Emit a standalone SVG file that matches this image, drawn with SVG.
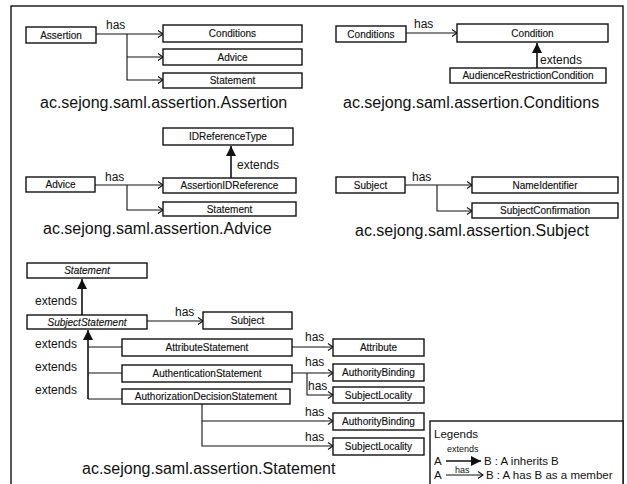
<svg xmlns="http://www.w3.org/2000/svg" width="627" height="484" viewBox="0 0 627 484">
<defs>
<marker id="open" markerUnits="userSpaceOnUse" markerWidth="10" markerHeight="10" refX="6" refY="4" orient="auto">
<path d="M1,0.5 L6,4 L1,7.5" fill="none" stroke="#111" stroke-width="1.1"/>
</marker>
<marker id="filled" markerUnits="userSpaceOnUse" markerWidth="12" markerHeight="12" refX="10" refY="5" orient="auto">
<path d="M0,0 L10,5 L0,10 Z" fill="#111"/>
</marker>
<style>
.box{fill:#fff;stroke:#111;stroke-width:1.4}
.lbl{font-family:"Liberation Sans",Arial,sans-serif;font-size:10px;fill:#111;text-anchor:middle;stroke:#111;stroke-width:0.15}
.it{font-style:italic}
.title{font-family:"Liberation Sans",Arial,sans-serif;font-size:16px;fill:#111}
.conn{font-family:"Liberation Sans",Arial,sans-serif;font-size:12px;fill:#111}
.has{fill:none;stroke:#111;stroke-width:1.1;marker-end:url(#open)}
.ext{fill:none;stroke:#111;stroke-width:1.6;marker-end:url(#filled)}
.extl{fill:none;stroke:#111;stroke-width:1.1}
.leg{font-family:"Liberation Sans",Arial,sans-serif;font-size:11.5px;fill:#111}
.legs{font-family:"Liberation Sans",Arial,sans-serif;font-size:9px;fill:#111}
</style>
</defs>
<rect width="627" height="484" fill="#fff"/>
<rect x="11" y="6" width="612" height="490" fill="none" stroke="#111" stroke-width="1.4"/>

<g id="connectors">
<path class="has" d="M96,34 H163"/>
<path class="has" d="M127,34 V80 H163"/>
<path class="has" d="M127,57 H163"/>
<path class="has" d="M406,33 H457"/>
<path class="ext" d="M537,68 V43"/>
<path class="ext" d="M231,178 V146"/>
<path class="has" d="M95,185 H163"/>
<path class="has" d="M127,185 V210 H163"/>
<path class="has" d="M405,185 H472"/>
<path class="has" d="M437,185 V211 H472"/>
<path class="ext" d="M82,315 V279"/>
<path class="has" d="M147,321 H203"/>
<path class="ext" d="M88,399 V330"/>
<path class="extl" d="M122,347 H88 M122,373 H88 M122,399 H88"/>
<path class="has" d="M292,347 H333"/>
<path class="has" d="M292,373 H333"/>
<path class="has" d="M307,373 V395 H333"/>
<path class="has" d="M202,404 V446 H333"/>
<path class="has" d="M202,421 H333"/>
</g>

<g id="connector-labels">
<text class="conn" x="106" y="29">has</text>
<text class="conn" x="414" y="28">has</text>
<text class="conn" x="540" y="64">extends</text>
<text class="conn" x="237" y="169">extends</text>
<text class="conn" x="105" y="181">has</text>
<text class="conn" x="412" y="181">has</text>
<text class="conn" x="35" y="305">extends</text>
<text class="conn" x="175" y="316">has</text>
<text class="conn" x="35" y="348">extends</text>
<text class="conn" x="35" y="371">extends</text>
<text class="conn" x="35" y="394">extends</text>
<text class="conn" x="305" y="341">has</text>
<text class="conn" x="305" y="366">has</text>
<text class="conn" x="308" y="390">has</text>
<text class="conn" x="305" y="416">has</text>
<text class="conn" x="305" y="441">has</text>
</g>

<g id="assertion-Assertion"><rect class="box" x="26" y="27" width="70" height="16"/><text class="lbl" x="61" y="38.5">Assertion</text></g>
<g id="assertion-Conditions"><rect class="box" x="163" y="25" width="139" height="17"/><text class="lbl" x="232.5" y="37">Conditions</text></g>
<g id="assertion-Advice"><rect class="box" x="163" y="49" width="139" height="16"/><text class="lbl" x="232.5" y="60.5">Advice</text></g>
<g id="assertion-Statement"><rect class="box" x="163" y="73" width="139" height="15"/><text class="lbl" x="232.5" y="84">Statement</text></g>
<text class="title" x="40" y="108">ac.sejong.saml.assertion.Assertion</text>

<g id="conditions-Conditions"><rect class="box" x="336" y="26" width="70" height="16"/><text class="lbl" x="371" y="37.5">Conditions</text></g>
<g id="conditions-Condition"><rect class="box" x="457" y="24" width="151" height="18"/><text class="lbl" x="532.5" y="36.5">Condition</text></g>
<g id="conditions-AudienceRestrictionCondition"><rect class="box" x="450" y="68" width="156" height="15"/><text class="lbl" x="528" y="79">AudienceRestrictionCondition</text></g>
<text class="title" x="343" y="108">ac.sejong.saml.assertion.Conditions</text>

<g id="advice-IDReferenceType"><rect class="box" x="163" y="128" width="130" height="17"/><text class="lbl" x="228" y="140">IDReferenceType</text></g>
<g id="advice-Advice"><rect class="box" x="26" y="177" width="69" height="15"/><text class="lbl" x="60.5" y="188">Advice</text></g>
<g id="advice-AssertionIDReference"><rect class="box" x="163" y="178" width="133" height="15"/><text class="lbl" x="229.5" y="189">AssertionIDReference</text></g>
<g id="advice-Statement"><rect class="box" x="163" y="202" width="133" height="14"/><text class="lbl" x="229.5" y="212.5">Statement</text></g>
<text class="title" x="43" y="234">ac.sejong.saml.assertion.Advice</text>

<g id="subject-Subject"><rect class="box" x="336" y="177" width="69" height="16"/><text class="lbl" x="370.5" y="188.5">Subject</text></g>
<g id="subject-NameIdentifier"><rect class="box" x="472" y="177" width="146" height="16"/><text class="lbl" x="545" y="188.5">NameIdentifier</text></g>
<g id="subject-SubjectConfirmation"><rect class="box" x="472" y="203" width="146" height="15"/><text class="lbl" x="545" y="214">SubjectConfirmation</text></g>
<text class="title" x="355" y="236">ac.sejong.saml.assertion.Subject</text>

<g id="statement-Statement"><rect class="box" x="27" y="263" width="120" height="15"/><text class="lbl it" x="87" y="274">Statement</text></g>
<g id="statement-SubjectStatement"><rect class="box" x="27" y="315" width="120" height="14"/><text class="lbl it" x="87" y="325.5">SubjectStatement</text></g>
<g id="statement-Subject"><rect class="box" x="203" y="312" width="89" height="17"/><text class="lbl" x="247.5" y="324">Subject</text></g>
<g id="statement-AttributeStatement"><rect class="box" x="122" y="339" width="170" height="17"/><text class="lbl" x="207" y="351">AttributeStatement</text></g>
<g id="statement-AuthenticationStatement"><rect class="box" x="122" y="365" width="170" height="17"/><text class="lbl" x="207" y="377">AuthenticationStatement</text></g>
<g id="statement-AuthorizationDecisionStatement"><rect class="box" x="122" y="389" width="168" height="15"/><text class="lbl" x="206" y="400">AuthorizationDecisionStatement</text></g>
<g id="statement-Attribute"><rect class="box" x="333" y="339" width="91" height="17"/><text class="lbl" x="378.5" y="351">Attribute</text></g>
<g id="statement-AuthorityBinding1"><rect class="box" x="333" y="364" width="91" height="17"/><text class="lbl" x="378.5" y="376">AuthorityBinding</text></g>
<g id="statement-SubjectLocality1"><rect class="box" x="333" y="387" width="91" height="16"/><text class="lbl" x="378.5" y="398.5">SubjectLocality</text></g>
<g id="statement-AuthorityBinding2"><rect class="box" x="333" y="413" width="91" height="17"/><text class="lbl" x="378.5" y="425">AuthorityBinding</text></g>
<g id="statement-SubjectLocality2"><rect class="box" x="333" y="438" width="91" height="17"/><text class="lbl" x="378.5" y="450">SubjectLocality</text></g>
<text class="title" x="82" y="474">ac.sejong.saml.assertion.Statement</text>

<g id="legend">
<rect x="430" y="421" width="193" height="70" fill="#fff" stroke="#111" stroke-width="1.4"/>
<text class="leg" x="434" y="438">Legends</text>
<text class="legs" x="447" y="452">extends</text>
<text class="leg" x="434" y="465">A</text>
<path class="ext" d="M446,461 H481" stroke-width="1.4"/>
<text class="leg" x="484" y="465">B : A inherits B</text>
<text class="leg" x="434" y="479">A</text>
<text class="legs" x="455" y="473">has</text>
<path class="has" d="M446,475 H483"/>
<text class="leg" x="486" y="479">B : A has B as a member</text>
</g>
</svg>
